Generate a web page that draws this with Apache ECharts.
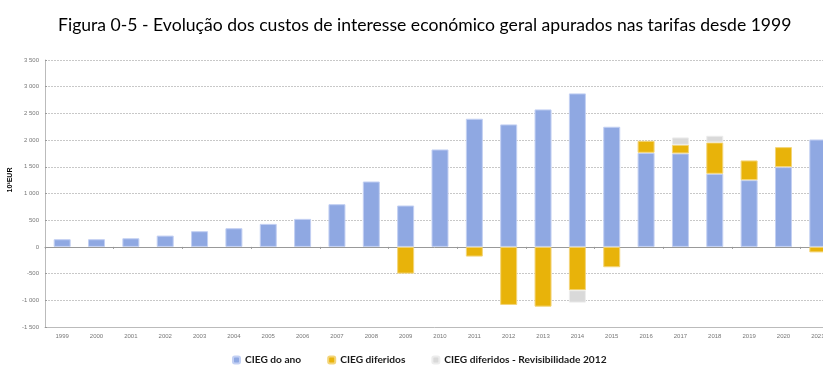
<!DOCTYPE html>
<html><head><meta charset="utf-8">
<script src="https://cdn.jsdelivr.net/npm/echarts@6/dist/echarts.min.js"></script>
<style>html,body{margin:0;padding:0;background:#fff}#c{width:823px;height:371px}</style>
</head><body><div id="c"></div>
<script>
const years = ['1999','2000','2001','2002','2003','2004','2005','2006','2007','2008','2009','2010','2011','2012','2013','2014','2015','2016','2017','2018','2019','2020','2021'];
const ciegAno = [144,144,162,212,294,350,431,525,800,1225,775,1825,2400,2294,2575,2875,2250,1762,1750,1369,1250,1494,2012];
const ciegDiferidos = [0,0,0,0,0,0,0,0,0,0,-500,0,-181,-1087,-1119,-812,-381,225,162,587,369,375,-103];
const ciegRevis = [0,0,0,0,0,0,0,0,0,0,0,0,0,0,0,-231,0,0,138,125,0,0,0];
const yTicks = [-1500,-1000,-500,0,500,1000,1500,2000,2500,3000,3500];
const seriesNames = ['CIEG do ano','CIEG diferidos','CIEG diferidos - Revisibilidade 2012'];

const fmt = v => { const s = Math.abs(v).toString(); const t = s.length > 3 ? s.slice(0, s.length-3) + ' ' + s.slice(-3) : s; return (v < 0 ? '-' : '') + t; };
const z = arr => arr.map(v => v === 0 ? null : v);

const chart = echarts.init(document.getElementById('c'), null, {renderer:'canvas'});
const barCommon = { type:'bar', stack:'t', barWidth:17, xAxisIndex:0 };
chart.setOption({
  animation:false,
  title:{ text:'Figura 0-5 - Evolução dos custos de interesse económico geral apurados nas tarifas desde 1999', left:53, top:11,
    textStyle:{ fontFamily:'Lato', fontSize:17.6, fontWeight:'normal', color:'#000' } },
  legend:{ bottom:1, left:227, itemWidth:7, itemHeight:7, itemGap:26,
    textStyle:{ fontFamily:'Lato', fontSize:10.2, fontWeight:'bold', color:'#1a1a1a' },
    data: seriesNames },
  grid:{ left:45, width:790, top:60, bottom:44, containLabel:false, outerBoundsMode:'none' },
  xAxis:[{ type:'category', data:years, position:'bottom', axisLine:{ onZero:false, lineStyle:{ color:'#bbb', width:1 } },
      axisTick:{ show:false }, axisLabel:{ fontSize:6, color:'#777', margin:6, fontFamily:'Liberation Sans' } },
    { type:'category', data:years, position:'bottom', axisLine:{ onZero:true, lineStyle:{ color:'#999', width:1 } },
      axisTick:{ show:true, inside:false, length:2, lineStyle:{ color:'#999' } }, axisLabel:{ show:false } }],
  yAxis:{ type:'value', min:-1500, max:3500, interval:500,
    axisLine:{ show:true, lineStyle:{ color:'#bbb' } },
    axisTick:{ show:true, inside:true, length:2, lineStyle:{ color:'#999' } },
    axisLabel:{ fontSize:6, color:'#777', margin:6, fontFamily:'Liberation Sans', formatter: v => yTicks.includes(v) ? fmt(v) : '' },
    splitLine:{ show:true, lineStyle:{ color:'#c8c8c8', type:[2,1], width:1 } } },
  graphic:[{ type:'text', x:10, y:180, rotation:Math.PI/2,
    style:{ text:'10³EUR', fontSize:7, fontWeight:'bold', fontFamily:'Liberation Sans', fill:'#000', align:'center', verticalAlign:'middle' } }],
  series:[
    Object.assign({}, barCommon, { name:seriesNames[0], data:ciegAno, itemStyle:{ color:'#8fa8e2', borderColor:'#c3d0f3', borderWidth:1 } }),
    Object.assign({}, barCommon, { name:seriesNames[1], data:z(ciegDiferidos), itemStyle:{ color:'#e8b30a', borderColor:'#f3d57a', borderWidth:1 } }),
    Object.assign({}, barCommon, { name:seriesNames[2], data:z(ciegRevis), itemStyle:{ color:'#d9d9d9', borderColor:'#ececec', borderWidth:1 } })
  ]
});
</script></body></html>
